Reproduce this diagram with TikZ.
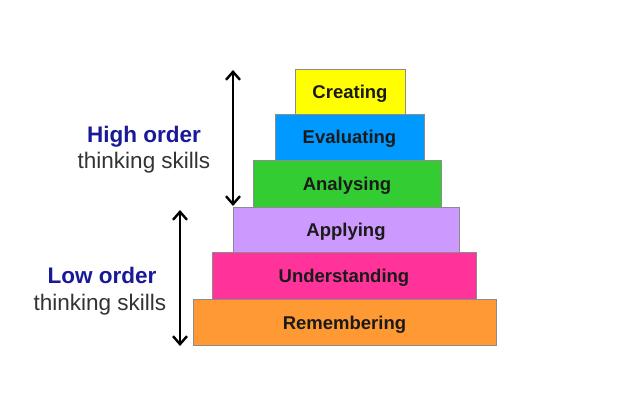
\documentclass[tikz,border=0pt]{standalone}
\usepackage{fontspec}
\setmainfont{Liberation Sans}
\usetikzlibrary{arrows.meta}
\definecolor{cCreate}{HTML}{FFFF00}
\definecolor{cEval}{HTML}{0099FF}
\definecolor{cAnal}{HTML}{33CC33}
\definecolor{cApply}{HTML}{CC99FF}
\definecolor{cUnder}{HTML}{FF3399}
\definecolor{cRemem}{HTML}{FF9933}
\definecolor{cEdge}{HTML}{8C8C8C}
\definecolor{cNavy}{HTML}{1A1A99}
\definecolor{cGray}{HTML}{333333}
\definecolor{cLabel}{HTML}{1A1A1A}
\tikzset{
  level/.style={draw=cEdge, line width=0.8pt, inner sep=0pt, minimum height=46pt,
    text height=14pt, text depth=0pt,
    font=\fontsize{18.5}{20}\selectfont\bfseries, text=cLabel},
  sidehead/.style={font=\fontsize{22.5}{24}\selectfont\bfseries, text=cNavy, inner sep=0pt,
    text height=16pt, text depth=0pt},
  sidesub/.style={font=\fontsize{22.5}{24}\selectfont, text=cGray, inner sep=0pt,
    text height=16pt, text depth=0pt},
  span/.style={line width=2.4pt, {Straight Barb[length=8pt,width=14pt]}-{Straight Barb[length=8pt,width=14pt]}}
}
\begin{document}
\begin{tikzpicture}[x=1pt,y=-1pt]
\useasboundingbox[fill=white] (0,0) rectangle (625,417);
\node[level, fill=cRemem, minimum width=303pt] (rem) at (344.5,322.5) {Remembering};
\node[level, fill=cUnder, minimum width=264pt, minimum height=47pt] (und) at (344,275.5) {Understanding};
\node[level, fill=cApply, minimum width=226pt, minimum height=45pt] (app) at (346,229.5) {Applying};
\node[level, fill=cAnal, minimum width=188pt, minimum height=47pt] (ana) at (347,183.5) {Analysing};
\node[level, fill=cEval, minimum width=149pt] (eva) at (349.5,137) {Evaluating};
\node[level, fill=cCreate, minimum width=110pt, minimum height=45pt] (cre) at (350,91.5) {Creating};
\coordinate (hTop) at (233,70);
\coordinate (hBot) at (233,206);
\coordinate (lTop) at (180,210);
\coordinate (lBot) at (180,346);
\draw[span] (hTop) -- (hBot);
\draw[span] (lTop) -- (lBot);
\node[sidehead] (hiHead) at (144,135) {High order};
\node[sidesub] (hiSub) at (144,161) {thinking skills};
\node[sidehead] (loHead) at (102,276) {Low order};
\node[sidesub] (loSub) at (100,303) {thinking skills};
\end{tikzpicture}
\end{document}
